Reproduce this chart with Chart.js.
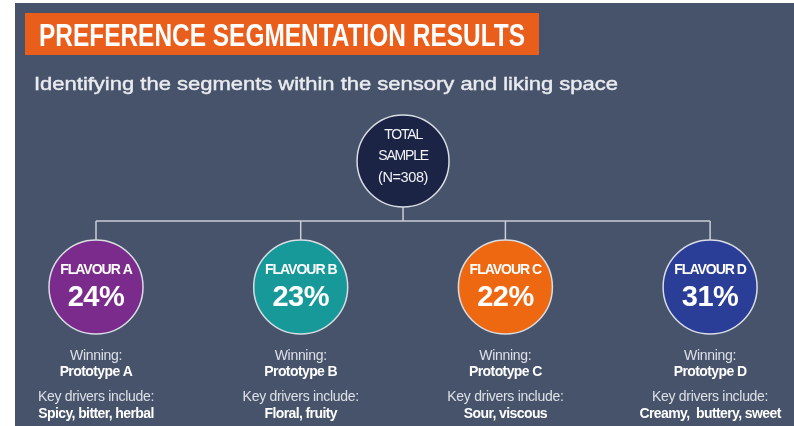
<!DOCTYPE html>
<html>
<head>
<meta charset="utf-8">
<script src="https://cdn.jsdelivr.net/npm/chart.js@4/dist/chart.umd.min.js"></script>
<style>
  html, body { margin: 0; padding: 0; background: #ffffff; }
  #wrap { width: 794px; height: 426px; position: relative; }
</style>
</head>
<body>
<div id="wrap"><canvas id="c" width="794" height="426"></canvas></div>
<script>
// ---- data ----
const titleText = 'PREFERENCE SEGMENTATION RESULTS';
const subtitleText = 'Identifying the segments within the sensory and liking space';
const rootLabel = ['TOTAL', 'SAMPLE'];
const totalSample = 308;
const segments = ['FLAVOUR A', 'FLAVOUR B', 'FLAVOUR C', 'FLAVOUR D'];
const shares = [24, 23, 22, 31];
const prototypes = ['Prototype A', 'Prototype B', 'Prototype C', 'Prototype D'];
const drivers = ['Spicy, bitter, herbal', 'Floral, fruity', 'Sour, viscous', 'Creamy,  buttery, sweet'];

// ---- styles / layout ----
const BG = '#46536a';
const LINE = '#c9ced7';
const segColors = ['#7b2b8b', '#17999a', '#ee6812', '#2b3e97'];
const rootColor = '#1c2446';
const BAR_LEVEL = 0.476;
const SANS = '"Liberation Sans", Arial, sans-serif';

const rootX = (segments.length - 1) / 2;
const lineStyle = { showLine: true, borderColor: LINE, borderWidth: 1.5, pointRadius: 0, order: 1 };
const lineSets = [
  Object.assign({ data: [{ x: 0, y: BAR_LEVEL }, { x: segments.length - 1, y: BAR_LEVEL }] }, lineStyle),
  Object.assign({ data: [{ x: rootX, y: 0 }, { x: rootX, y: BAR_LEVEL }] }, lineStyle)
].concat(segments.map((s, i) => Object.assign({ data: [{ x: i, y: BAR_LEVEL }, { x: i, y: 1 }] }, lineStyle)));

const rootSet = {
  label: 'root',
  data: [{ x: rootX, y: 0 }],
  pointRadius: 46, pointHoverRadius: 46,
  pointBackgroundColor: rootColor, pointBorderColor: '#d9dde4', pointBorderWidth: 1.5,
  order: 0
};
const segSet = {
  label: 'segments',
  data: segments.map((s, i) => ({ x: i, y: 1 })),
  pointRadius: 47, pointHoverRadius: 47,
  pointBackgroundColor: segColors, pointBorderColor: '#d9dde4', pointBorderWidth: 1.5,
  order: 0
};

function fitText(ctx, text, x, y, width, stroke) {
  const w = ctx.measureText(text).width;
  ctx.save();
  ctx.translate(x, y);
  ctx.scale(width / w, 1);
  ctx.fillText(text, 0, 0);
  if (stroke) ctx.strokeText(text, 0, 0);
  ctx.restore();
}

const bgPlugin = {
  id: 'bg',
  beforeDraw(chart) {
    const ctx = chart.ctx;
    ctx.save();
    ctx.fillStyle = '#ffffff';
    ctx.fillRect(0, 0, chart.width, chart.height);
    ctx.fillStyle = BG;
    ctx.fillRect(15, 3, chart.width - 15, chart.height - 3);
    // title box
    ctx.fillStyle = '#e95e1b';
    ctx.fillRect(25, 13, 514, 42);
    ctx.fillStyle = '#ffffff';
    ctx.textBaseline = 'alphabetic';
    ctx.textAlign = 'left';
    ctx.font = 'bold 30.5px ' + SANS;
    fitText(ctx, titleText, 39, 46, 486);
    // subtitle
    ctx.fillStyle = '#e9ebef';
    ctx.strokeStyle = '#e9ebef';
    ctx.lineWidth = 0.45;
    ctx.font = '19px ' + SANS;
    fitText(ctx, subtitleText, 34, 90, 584, true);
    ctx.restore();
  }
};

const labelPlugin = {
  id: 'labels',
  afterDatasetsDraw(chart) {
    const ctx = chart.ctx;
    ctx.save();
    ctx.textAlign = 'center';
    ctx.textBaseline = 'middle';
    // root
    const rootMeta = chart.getDatasetMeta(lineSets.length);
    const r = rootMeta.data[0];
    ctx.fillStyle = '#f2f3f6';
    ctx.font = '14px ' + SANS;
    ctx.letterSpacing = '-1.2px';
    ctx.fillText(rootLabel[0], r.x, r.y - 26);
    ctx.fillText(rootLabel[1], r.x, r.y - 5);
    ctx.letterSpacing = '-0.4px';
    ctx.font = '14.5px ' + SANS;
    ctx.fillText('(N=' + totalSample + ')', r.x, r.y + 17);
    // segments
    const segMeta = chart.getDatasetMeta(lineSets.length + 1);
    segMeta.data.forEach((p, i) => {
      ctx.fillStyle = '#ffffff';
      ctx.letterSpacing = '-1px';
      ctx.font = 'bold 14px ' + SANS;
      ctx.fillText(segments[i], p.x, p.y - 17);
      ctx.letterSpacing = '-0.5px';
      ctx.font = 'bold 29px ' + SANS;
      ctx.fillText(shares[i] + '%', p.x, p.y + 11);
      ctx.letterSpacing = '-0.3px';
      ctx.fillStyle = '#dde0e6';
      ctx.font = '14px ' + SANS;
      ctx.fillText('Winning:', p.x, p.y + 69);
      ctx.fillText('Key drivers include:', p.x, p.y + 110);
      ctx.fillStyle = '#ffffff';
      ctx.letterSpacing = '-0.6px';
      ctx.font = 'bold 14px ' + SANS;
      ctx.fillText(prototypes[i], p.x, p.y + 85);
      ctx.fillText(drivers[i], p.x, p.y + 127);
    });
    ctx.restore();
  }
};

// scale ranges so that index/level map onto the page layout
const xUnit = 204.7, x0 = 96;
const yUnit = 126, y0 = 161;
const xMin = -x0 / xUnit, xMax = xMin + 794 / xUnit;
const yMin = -y0 / yUnit, yMax = yMin + 426 / yUnit;

new Chart(document.getElementById('c'), {
  type: 'scatter',
  data: { datasets: lineSets.concat([rootSet, segSet]) },
  options: {
    responsive: false,
    animation: false,
    events: [],
    layout: { padding: 0, autoPadding: false },
    plugins: { legend: { display: false }, tooltip: { enabled: false }, title: { display: false } },
    scales: {
      x: { type: 'linear', display: false, min: xMin, max: xMax },
      y: { type: 'linear', display: false, min: yMin, max: yMax, reverse: true }
    }
  },
  plugins: [bgPlugin, labelPlugin]
});
</script>
</body>
</html>
